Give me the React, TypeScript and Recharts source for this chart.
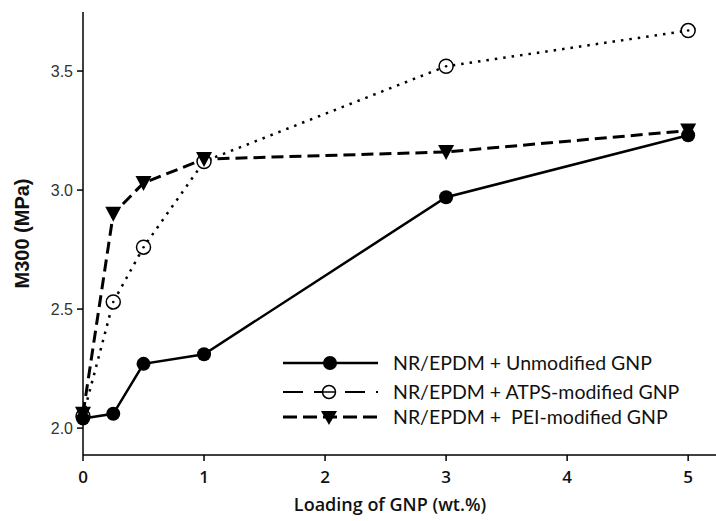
import React from 'react';
import { LineChart, Line, XAxis, YAxis, Legend } from 'recharts';

const loading = [0, 0.25, 0.5, 1, 3, 5];
const unmodified = [2.04, 2.06, 2.27, 2.31, 2.97, 3.23];
const atps = [2.05, 2.53, 2.76, 3.12, 3.52, 3.67];
const pei = [2.06, 2.9, 3.03, 3.13, 3.16, 3.25];
const xTicks = [0, 1, 2, 3, 4, 5];
const yTicks = [2.0, 2.5, 3.0, 3.5];
const seriesNames = [
  'NR/EPDM + Unmodified GNP',
  'NR/EPDM + ATPS-modified GNP',
  'NR/EPDM +  PEI-modified GNP',
];

const data = loading.map((x, i) => ({ x, unmodified: unmodified[i], atps: atps[i], pei: pei[i] }));

const FilledDot = (p: any) => (
  <circle key={`u${p.index}`} cx={p.cx} cy={p.cy} r={7} fill="#000" />
);
const OpenDot = (p: any) => (
  <g key={`a${p.index}`}>
    <circle cx={p.cx} cy={p.cy} r={7} fill="#fff" stroke="#000" strokeWidth={1.5} />
    <circle cx={p.cx} cy={p.cy} r={1.3} fill="#000" />
  </g>
);
const TriDot = (p: any) => (
  <path
    key={`p${p.index}`}
    d={`M${p.cx - 8},${p.cy - 7} L${p.cx + 8},${p.cy - 7} L${p.cx},${p.cy + 8} Z`}
    fill="#000"
  />
);

const legendFont = "Lato, 'Open Sans', sans-serif";

const LegendContent = () => (
  <svg width={430} height={84} style={{ display: 'block' }}>
    <g>
      <line x1={0} y1={15} x2={95} y2={15} stroke="#000" strokeWidth={2.5} />
      <circle cx={47} cy={15} r={7} fill="#000" />
      <text x={110} y={22} fontFamily={legendFont} fontSize={19.5} fill="#111">{seriesNames[0]}</text>
    </g>
    <g>
      <line x1={0} y1={44} x2={95} y2={44} stroke="#000" strokeWidth={2} strokeDasharray="20 11" />
      <circle cx={46} cy={44} r={6.5} fill="#fff" stroke="#000" strokeWidth={1.5} />
      <line x1={39} y1={44} x2={53} y2={44} stroke="#000" strokeWidth={1.5} />
      <text x={110} y={51} fontFamily={legendFont} fontSize={19.5} fill="#111">{seriesNames[1]}</text>
    </g>
    <g>
      <line x1={0} y1={69} x2={95} y2={69} stroke="#000" strokeWidth={3} strokeDasharray="14 6" />
      <path d="M38,63 L54,63 L46,77 Z" fill="#000" />
      <text x={110} y={76} fontFamily={legendFont} fontSize={19.5} fill="#111" style={{ whiteSpace: 'pre' }}>{seriesNames[2]}</text>
    </g>
  </svg>
);

const YTitle = (props: any) => {
  const vb = props.viewBox || { x: 0, y: 0, width: 0, height: 0 };
  const cx = 22;
  const cy = vb.y + vb.height / 2;
  return (
    <text
      x={cx}
      y={cy}
      transform={`rotate(-90, ${cx}, ${cy})`}
      textAnchor="middle"
      dominantBaseline="central"
      fontFamily="'Liberation Sans', Arial, sans-serif"
      fontWeight="bold"
      fontSize={20}
      fill="#111"
    >
      M300 (MPa)
    </text>
  );
};

const XTitle = (props: any) => {
  const vb = props.viewBox || { x: 0, y: 0, width: 0, height: 0 };
  return (
    <text
      x={390}
      y={vb.y + 56}
      textAnchor="middle"
      fontFamily="'Open Sans', Lato, sans-serif"
      fontWeight={600}
      fontSize={18}
      fill="#111"
    >
      Loading of GNP (wt.%)
    </text>
  );
};

export default function App() {
  return (
    <div style={{ position: 'absolute', left: 0, top: 0, width: 716, height: 521, background: '#fff' }}>
      <LineChart
        width={716}
        height={521}
        data={data}
        margin={{ top: 12, right: 0, left: 0, bottom: 0 }}
      >
        <XAxis
          xAxisId="top"
          orientation="top"
          dataKey="x"
          type="number"
          domain={[0, 5.23]}
          height={0}
          tick={false}
          tickLine={false}
          axisLine={{ stroke: '#000', strokeWidth: 1.5 }}
        />
        <XAxis
          dataKey="x"
          type="number"
          domain={[0, 5.23]}
          ticks={xTicks}
          height={66}
          tickSize={6}
          tickLine={{ stroke: '#000', strokeWidth: 1.5 }}
          axisLine={{ stroke: '#000', strokeWidth: 1.5 }}
          tick={{ fill: '#111', fontSize: 17, fontFamily: "'Open Sans', Lato, sans-serif", fontWeight: 600 }}
          tickMargin={10}
          label={<XTitle />}
        />
        <YAxis
          type="number"
          domain={[1.887, 3.748]}
          ticks={yTicks}
          width={83}
          tickSize={6}
          tickLine={{ stroke: '#000', strokeWidth: 1.5 }}
          axisLine={{ stroke: '#000', strokeWidth: 1.5 }}
          tick={{ fill: '#333', fontSize: 16, fontFamily: "'Liberation Sans', Arial, sans-serif" }}
          tickFormatter={(v: number) => v.toFixed(1)}
          tickMargin={4}
          label={<YTitle />}
        />
        <Legend
          layout="vertical"
          align="center"
          verticalAlign="middle"
          content={<LegendContent />}
          wrapperStyle={{ left: 283, top: 348, width: 430 }}
        />
        <Line
          dataKey="atps"
          stroke="#000"
          strokeWidth={2.5}
          strokeDasharray="2.5 6"
          dot={OpenDot}
          activeDot={false}
          isAnimationActive={false}
        />
        <Line
          dataKey="pei"
          stroke="#000"
          strokeWidth={3}
          strokeDasharray="12 6"
          dot={TriDot}
          activeDot={false}
          isAnimationActive={false}
        />
        <Line
          dataKey="unmodified"
          stroke="#000"
          strokeWidth={2.5}
          dot={FilledDot}
          activeDot={false}
          isAnimationActive={false}
        />
      </LineChart>
    </div>
  );
}
